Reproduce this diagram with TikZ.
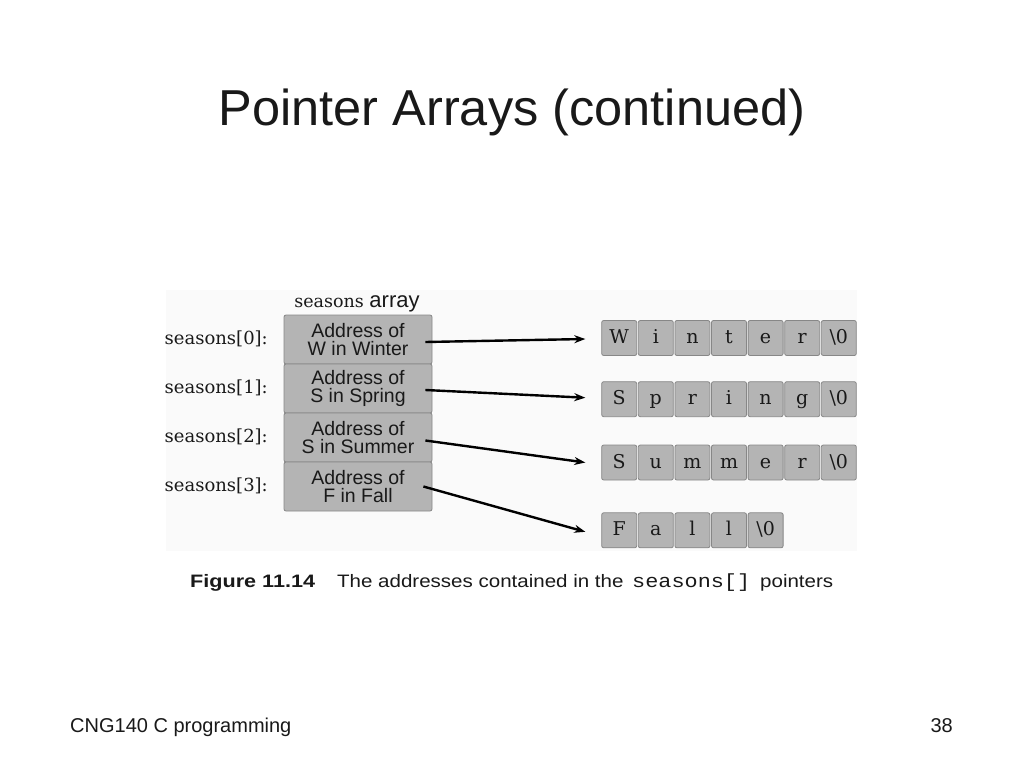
\documentclass[tikz,border=0pt]{standalone}
\usepackage{fontspec}
\usepackage{graphicx}
\setmainfont{DejaVu Serif}
\newfontfamily\arialfont{Liberation Sans}
\newfontfamily\monofont{Liberation Mono}
\usetikzlibrary{arrows.meta}
\definecolor{cellfill}{RGB}{180,180,180}
\definecolor{celledge}{RGB}{135,135,135}
\definecolor{figbg}{RGB}{250,250,250}
\definecolor{txt}{RGB}{25,25,25}
\tikzset{
  arrbox/.style={draw=celledge, fill=cellfill, rounded corners=2pt, line width=0.8pt,
    minimum width=148pt, minimum height=49pt, inner sep=0pt, align=center,
    font=\arialfont\fontsize{19.5}{17.5}\selectfont, text=txt},
  chcell/.style={draw=celledge, fill=cellfill, rounded corners=2pt, line width=0.8pt,
    minimum width=35pt, minimum height=35pt, inner sep=0pt, text height=14pt, text depth=3pt,
    font=\fontsize{19}{19}\selectfont, text=txt},
  idxlabel/.style={anchor=east, inner sep=0pt, font=\fontsize{18}{18}\selectfont, text=txt},
  ptr/.style={line width=2.4pt, draw=black, -{Stealth[length=11pt,width=8pt]}},
  captxt/.style={anchor=base west, inner sep=0pt, text=txt},
}
\begin{document}
\begin{tikzpicture}[x=1pt,y=-1pt]
\useasboundingbox (0,0) rectangle (1024,768);
\fill[white] (0,0) rectangle (1024,768);
% faint figure background
\fill[figbg] (166,290) rectangle (857,551);
% title
\node[anchor=base, inner sep=0pt, font=\arialfont\fontsize{50.5}{50.5}\selectfont, text=txt] (title) at (512,125) {Pointer Arrays (continued)};
% array boxes
\node[arrbox] (a0) at (358,339.5) {Address of\\W in Winter};
\node[arrbox] (a1) at (358,388.5) {Address of\\S in Spring};
\node[arrbox] (a2) at (358,437.5) {Address of\\S in Summer};
\node[arrbox] (a3) at (358,486.5) {Address of\\F in Fall};
\node[inner sep=0pt, text=txt, anchor=base] (arrtitle) at (357,307) {\fontsize{17.5}{17.5}\selectfont seasons \arialfont\fontsize{22}{22}\selectfont array};
% labels
\node[idxlabel] (l0) at (268,339) {seasons[0]:};
\node[idxlabel] (l1) at (268,388) {seasons[1]:};
\node[idxlabel] (l2) at (268,437) {seasons[2]:};
\node[idxlabel] (l3) at (268,486) {seasons[3]:};
% character cells
\foreach \c [count=\i from 0] in {W,i,n,t,e,r,\textbackslash 0}
  \node[chcell] (w\i) at (619.2+36.6*\i,338) {\c};
\foreach \c [count=\i from 0] in {S,p,r,i,n,g,\textbackslash 0}
  \node[chcell] (s\i) at (619.2+36.6*\i,399.2) {\c};
\foreach \c [count=\i from 0] in {S,u,m,m,e,r,\textbackslash 0}
  \node[chcell] (u\i) at (619.2+36.6*\i,462.5) {\c};
\foreach \c [count=\i from 0] in {F,a,l,l,\textbackslash 0}
  \node[chcell] (f\i) at (619.2+36.6*\i,530.3) {\c};
% pointers
\draw[ptr] ([xshift=-7pt,yshift=-2.5pt]a0.east) -- ([xshift=-16pt,yshift=-1pt]w0.west);
\draw[ptr] ([xshift=-7pt,yshift=-1.5pt]a1.east) -- ([xshift=-16pt,yshift=1.5pt]s0.west);
\draw[ptr] ([xshift=-7pt,yshift=-3pt]a2.east) -- ([xshift=-16pt]u0.west);
\draw[ptr] ([xshift=-9pt]a3.east) -- ([xshift=-16pt,yshift=-1.5pt]f0.west);
% caption
\node[captxt, font=\arialfont\bfseries\fontsize{18}{18}\selectfont] (figlabel) at (190,587) {\scalebox{1.2}[1]{Figure 11.14}};
\node[captxt, font=\arialfont\fontsize{18}{18}\selectfont] (caption) at (337,587) {\scalebox{1.14}[1]{The addresses contained in the}};
\node[captxt, font=\monofont\fontsize{19}{19}\selectfont] (capmono) at (632,587) {\scalebox{1.15}[1]{seasons[]}};
\node[captxt, font=\arialfont\fontsize{18}{18}\selectfont] (capend) at (760,587) {\scalebox{1.14}[1]{pointers}};
% footer
\node[anchor=base west, inner sep=0pt, text=txt, font=\arialfont\fontsize{20}{20}\selectfont] (foot) at (70,732) {CNG140 C programming};
\node[anchor=base east, inner sep=0pt, text=txt, font=\arialfont\fontsize{20}{20}\selectfont] (page) at (953,732) {38};
\end{tikzpicture}
\end{document}
